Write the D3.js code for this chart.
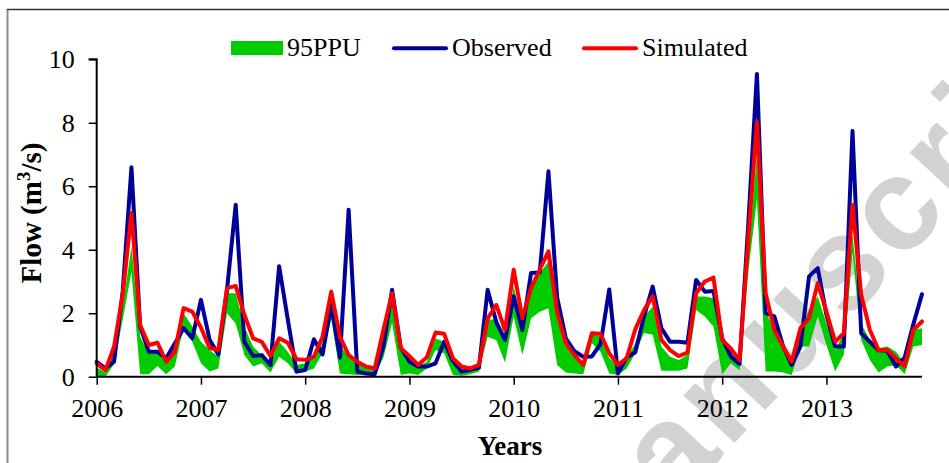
<!DOCTYPE html>
<html>
<head>
<meta charset="utf-8">
<script src="https://cdn.jsdelivr.net/npm/d3@7"></script>
<style>
  html, body { margin: 0; padding: 0; background: #fff; }
  svg { display: block; }
</style>
</head>
<body>
<svg id="chart" width="949" height="463"></svg>
<script>
// ---------------- data (monthly, Jan 2006 .. Dec 2013) ----------------
const yearLabels = ["2006", "2007", "2008", "2009", "2010", "2011", "2012", "2013"];
const yTicks = [0, 2, 4, 6, 8, 10];
const seriesNames = ["95PPU", "Observed", "Simulated"];

const observed = [
  0.47, 0.26, 0.47, 2.70, 6.60, 1.58, 0.79, 0.79, 0.58, 1.05, 1.53, 1.21,
  2.42, 1.16, 0.70, 2.74, 5.42, 1.10, 0.65, 0.68, 0.37, 3.48, 1.80, 0.16,
  0.21, 1.18, 0.70, 2.28, 0.60, 5.26, 0.16, 0.10, 0.08, 0.95, 2.74, 0.92,
  0.47, 0.32, 0.32, 0.42, 1.10, 0.50, 0.16, 0.22, 0.28, 2.74, 1.72, 1.16,
  2.53, 1.47, 3.27, 3.28, 6.47, 2.50, 1.21, 0.80, 0.63, 0.64, 1.03, 2.75,
  0.10, 0.60, 0.77, 1.90, 2.84, 1.53, 1.10, 1.10, 1.07, 3.05, 2.68, 2.70,
  1.21, 0.63, 0.40, 4.80, 9.54, 2.00, 1.90, 0.97, 0.37, 0.95, 3.16, 3.42,
  1.95, 0.95, 0.95, 7.74, 1.37, 1.10, 0.83, 0.82, 0.32, 0.60, 1.65, 2.60
];

const simulated = [
  0.42, 0.20, 0.95, 2.60, 5.16, 1.63, 1.00, 1.07, 0.47, 0.79, 2.16, 2.05,
  1.55, 0.90, 0.84, 2.79, 2.86, 1.95, 1.21, 1.10, 0.65, 1.21, 1.07, 0.55,
  0.53, 0.63, 1.26, 2.68, 1.26, 0.68, 0.47, 0.32, 0.26, 1.47, 2.63, 0.90,
  0.65, 0.37, 0.61, 1.39, 1.35, 0.58, 0.32, 0.26, 0.37, 1.84, 2.26, 1.47,
  3.37, 1.84, 2.79, 3.37, 3.95, 2.05, 1.05, 0.68, 0.37, 1.37, 1.35, 0.74,
  0.37, 0.58, 1.50, 2.10, 2.53, 1.16, 0.84, 0.65, 0.76, 2.63, 3.00, 3.12,
  1.16, 0.88, 0.53, 4.30, 8.03, 2.63, 1.47, 0.95, 0.47, 1.53, 1.84, 2.95,
  2.05, 1.10, 1.37, 5.42, 2.58, 1.47, 0.84, 0.84, 0.58, 0.32, 1.47, 1.74
];

const ppuUpper = [
  0.30, 0.12, 0.84, 2.20, 4.10, 1.26, 0.74, 0.79, 0.47, 0.79, 2.00, 1.58,
  1.10, 0.84, 0.63, 2.63, 2.63, 1.58, 0.95, 0.68, 0.47, 1.10, 0.79, 0.37,
  0.42, 0.63, 1.05, 2.20, 1.00, 0.63, 0.42, 0.35, 0.20, 1.16, 2.42, 0.84,
  0.47, 0.32, 0.47, 1.20, 1.10, 0.42, 0.21, 0.21, 0.26, 1.80, 1.80, 1.26,
  2.84, 1.68, 2.95, 3.26, 3.63, 2.20, 1.16, 0.74, 0.32, 1.42, 1.26, 0.58,
  0.32, 0.58, 1.05, 1.90, 2.20, 0.95, 0.63, 0.53, 0.68, 2.53, 2.53, 2.47,
  1.05, 0.84, 0.50, 3.80, 7.00, 2.05, 1.47, 0.95, 0.42, 1.58, 2.10, 2.53,
  1.68, 0.84, 1.37, 4.50, 1.68, 1.16, 0.90, 0.95, 0.79, 0.42, 1.47, 1.53
];

const ppuLower = [
  0.02, 0.00, 0.40, 1.80, 3.30, 0.08, 0.08, 0.34, 0.08, 0.32, 1.58, 1.10,
  0.42, 0.16, 0.26, 2.00, 1.68, 0.68, 0.32, 0.42, 0.13, 0.63, 0.42, 0.10,
  0.16, 0.26, 0.74, 1.80, 0.10, 0.08, 0.05, 0.08, 0.05, 0.60, 1.70, 0.05,
  0.10, 0.05, 0.26, 0.84, 0.74, 0.05, 0.03, 0.08, 0.16, 1.26, 1.16, 0.45,
  1.90, 0.68, 1.84, 2.05, 2.16, 0.37, 0.13, 0.10, 0.08, 1.05, 0.79, 0.10,
  0.05, 0.26, 0.74, 1.38, 1.32, 0.19, 0.19, 0.19, 0.26, 2.10, 1.90, 1.58,
  0.08, 0.42, 0.20, 3.30, 5.60, 0.16, 0.16, 0.13, 0.05, 0.95, 0.95, 1.90,
  1.00, 0.16, 0.70, 3.90, 1.16, 0.53, 0.13, 0.32, 0.37, 0.08, 0.95, 1.00
];

// ---------------- drawing ----------------
const SERIF = "'Liberation Serif', 'Times New Roman', Times, serif";
const SANS = "'Liberation Sans', Arial, Helvetica, sans-serif";
const svg = d3.select("#chart").attr("font-family", SERIF);
const W = 949, H = 463;
const plotLeft = 96.7, plotRight = 922, plotTop = 59.3, plotBottom = 376.7;

const idx = d3.range(observed.length);
const x = d3.scaleLinear().domain([0, observed.length - 1]).range([plotLeft, plotRight]);
const y = d3.scaleLinear().domain([0, 10]).range([plotBottom, plotTop]);

const colors = { ppu: "#00cc00", obs: "#000099", sim: "#ff0000" };
const fontSize = 26;

// Watermark (behind chart)
svg.append("text")
  .attr("transform", "translate(590,598) rotate(-47)")
  .attr("font-family", SANS)
  .attr("font-weight", "bold")
  .attr("font-size", 132)
  .attr("letter-spacing", 6)
  .attr("fill", "#d2d2d2")
  .text("manuscript");

// Frame
svg.append("line").attr("x1", 7.5).attr("x2", 7.5).attr("y1", 9).attr("y2", H)
  .attr("stroke", "#8a8a8a").attr("stroke-width", 2);
svg.append("line").attr("x1", 7).attr("x2", W).attr("y1", 9.5).attr("y2", 9.5)
  .attr("stroke", "#333").attr("stroke-width", 1.3);

// 95PPU band
const area = d3.area()
  .x(i => x(i))
  .y0(i => y(ppuLower[i]))
  .y1(i => y(ppuUpper[i]));
svg.append("path").datum(idx).attr("d", area).attr("fill", colors.ppu);

// lines
const lineOf = arr => d3.line().x(i => x(i)).y(i => y(arr[i]));
svg.append("path").datum(idx).attr("d", lineOf(observed))
  .attr("fill", "none").attr("stroke", colors.obs).attr("stroke-width", 4)
  .attr("stroke-linejoin", "round").attr("stroke-linecap", "round");
svg.append("path").datum(idx).attr("d", lineOf(simulated))
  .attr("fill", "none").attr("stroke", colors.sim).attr("stroke-width", 4)
  .attr("stroke-linejoin", "round").attr("stroke-linecap", "round");

// Axes
const yAxis = d3.axisLeft(y).tickValues(yTicks).tickSize(8).tickPadding(14).tickFormat(d3.format("d"));
const gy = svg.append("g").attr("transform", `translate(${plotLeft},0)`).call(yAxis);
const xAxis = d3.axisBottom(x).tickValues(yearLabels.map((d, k) => k * 12))
  .tickSize(8).tickPadding(14).tickFormat((d, k) => yearLabels[k]);
const gx = svg.append("g").attr("transform", `translate(0,${plotBottom})`).call(xAxis);

[gx, gy].forEach(g => {
  g.attr("font-family", SERIF).attr("font-size", fontSize);
  g.select(".domain").attr("stroke", "#000").attr("stroke-width", 2);
  g.selectAll(".tick line").attr("stroke", "#000").attr("stroke-width", 1.5);
  g.selectAll(".tick text").attr("fill", "#000").attr("font-family", SERIF).attr("font-size", fontSize);
});
gy.select(".domain").attr("d", `M-8,${plotTop}H0V${plotBottom}`);
gx.select(".domain").attr("d", `M${plotLeft},0H${plotRight}`);

// Axis titles
const yt = svg.append("text")
  .attr("transform", "translate(41,213) rotate(-90)")
  .attr("text-anchor", "middle")
  .attr("font-family", SERIF)
  .attr("font-weight", "bold")
  .attr("font-size", 29)
  .attr("fill", "#000");
yt.append("tspan").text("Flow (m");
yt.append("tspan").attr("font-size", 19).attr("dy", -11).text("3");
yt.append("tspan").attr("dy", 11).text("/s)");

svg.append("text")
  .attr("x", 510).attr("y", 455)
  .attr("text-anchor", "middle")
  .attr("font-family", SERIF)
  .attr("font-weight", "bold")
  .attr("font-size", 27)
  .attr("fill", "#000")
  .text("Years");

// Legend
const lg = svg.append("g").attr("font-family", SERIF).attr("font-size", fontSize);
lg.append("rect").attr("x", 231).attr("y", 41).attr("width", 52).attr("height", 14).attr("fill", colors.ppu);
lg.append("text").attr("x", 287).attr("y", 56).attr("fill", "#000").text(seriesNames[0]);
lg.append("line").attr("x1", 394).attr("x2", 446).attr("y1", 48.3).attr("y2", 48.3)
  .attr("stroke", colors.obs).attr("stroke-width", 4).attr("stroke-linecap", "round");
lg.append("text").attr("x", 452).attr("y", 56).attr("fill", "#000").text(seriesNames[1]);
lg.append("line").attr("x1", 584).attr("x2", 636).attr("y1", 48.3).attr("y2", 48.3)
  .attr("stroke", colors.sim).attr("stroke-width", 4).attr("stroke-linecap", "round");
lg.append("text").attr("x", 642).attr("y", 56).attr("fill", "#000").text(seriesNames[2]);
</script>
</body>
</html>
